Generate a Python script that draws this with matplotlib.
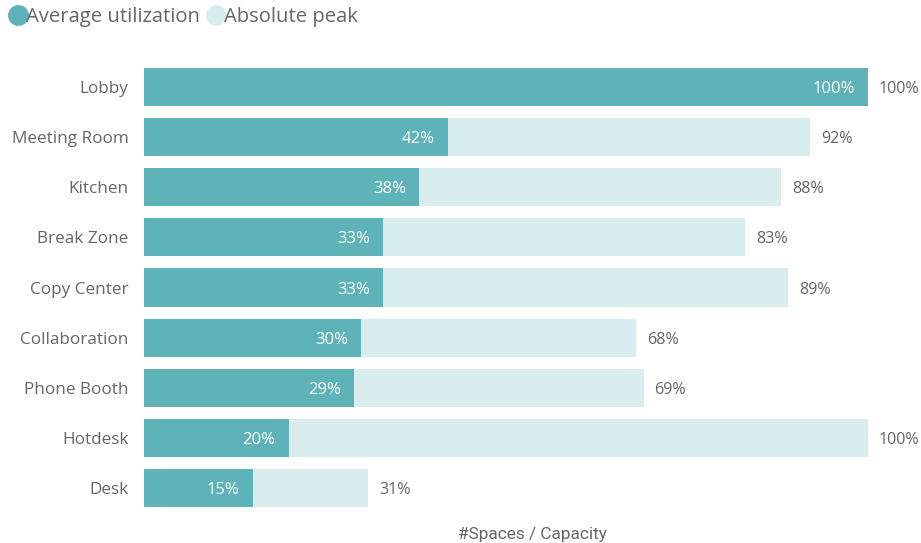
import matplotlib
matplotlib.use("Agg")
import matplotlib.pyplot as plt
from matplotlib.lines import Line2D

categories = ["Lobby", "Meeting Room", "Kitchen", "Break Zone", "Copy Center",
              "Collaboration", "Phone Booth", "Hotdesk", "Desk"]
avg_util = [100, 42, 38, 33, 33, 30, 29, 20, 15]
abs_peak = [100, 92, 88, 83, 89, 68, 69, 100, 31]

DARK = "#5EB3B8"
LIGHT = "#D9EDEF"
GRAY = "#666666"

plt.rcParams['font.family'] = ['Open Sans', 'DejaVu Sans']

fig = plt.figure(figsize=(9.21, 5.43), dpi=100)
ax = fig.add_axes([144/921, 1-513/543, (868-144)/921, (513-62)/543])

y = list(range(len(categories)))
ax.barh(y, abs_peak, height=0.76, color=LIGHT, zorder=1)
ax.barh(y, avg_util, height=0.76, color=DARK, zorder=2)

for i, (a, p) in enumerate(zip(avg_util, abs_peak)):
    ax.annotate(f"{a}%", xy=(a, i), xytext=(-9.5, -1.5), textcoords="offset points",
                ha="right", va="center", color="white", fontsize=12)
    ax.annotate(f"{p}%", xy=(p, i), xytext=(7.8, -1.5), textcoords="offset points",
                ha="left", va="center", color=GRAY, fontsize=11.6)

ax.set_xlim(0, 100)
ax.set_ylim(len(categories) - 0.5, -0.5)
ax.set_yticks(y)
ax.set_yticklabels(categories, fontsize=12.3, color=GRAY)
ax.tick_params(axis="y", length=0, pad=11)
ax.set_xticks([])
for s in ax.spines.values():
    s.set_visible(False)

fig.text(532/921, 1-534/543, "#Spaces / Capacity", ha="center", va="center",
         fontsize=12.4, color=GRAY, family=["Roboto", "DejaVu Sans"])

handles = [Line2D([], [], marker="o", linestyle="", markersize=14, color=DARK),
           Line2D([], [], marker="o", linestyle="", markersize=14, color=LIGHT)]
fig.legend(handles, ["Average utilization", "Absolute peak"], loc="upper left",
           bbox_to_anchor=(-0.014, 1.02), ncol=2, frameon=False, fontsize=14.6,
           labelcolor=GRAY, handletextpad=-0.2, columnspacing=0.2, handlelength=1.2)

fig.savefig("out.png", dpi=100)
